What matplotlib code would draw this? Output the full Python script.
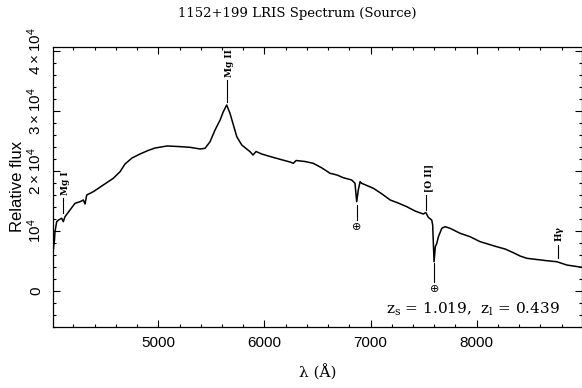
import matplotlib
matplotlib.use("Agg")
import matplotlib.pyplot as plt
from matplotlib.ticker import MultipleLocator, FixedLocator, FixedFormatter
import numpy as np

# spectrum, wavelength in Angstrom and relative flux
wave = [4010, 4021, 4026, 4042, 4059, 4089, 4104, 4120, 4167, 4215,
        4262, 4293, 4309, 4325, 4387, 4481, 4575, 4639, 4686, 4752,
        4827, 4903, 4969, 5082, 5186, 5298, 5393, 5440, 5487, 5534,
        5582, 5612, 5644, 5675, 5707, 5739, 5786, 5864, 5892, 5921,
        5974, 6052, 6147, 6241, 6272, 6298, 6383, 6460, 6542, 6618,
        6684, 6743, 6822, 6853, 6869, 6884, 6901, 6916, 7026, 7108,
        7185, 7259, 7341, 7419, 7497, 7520, 7544, 7576, 7585, 7598,
        7610, 7624, 7639, 7671, 7702, 7749, 7843, 7937, 8032, 8189,
        8267, 8346, 8409, 8472, 8660, 8755, 8849, 8990]
flux = [6780, 8450, 9830, 11500, 11780, 12070, 11500, 12330, 13450, 14570,
        14830, 15120, 14450, 15950, 16500, 17620, 18730, 19830, 21120, 22120,
        22780, 23370, 23780, 24120, 24030, 23900, 23620, 23730, 24830, 26780,
        28450, 29830, 30950, 29570, 27620, 25670, 24280, 23170, 22620, 23200,
        22780, 22370, 21900, 21450, 21230, 21700, 21530, 21230, 20450, 19570,
        19280, 18830, 18450, 17900, 14830, 16780, 18170, 17900, 17070, 16120,
        15120, 14620, 14000, 13280, 12780, 13030, 12230, 11780, 10950, 4830,
        7330, 7900, 9000, 10400, 10670, 10400, 9570, 9000, 8170, 7330,
        6950, 6330, 5780, 5400, 5000, 4830, 4280, 3900]

# line identifications: name, wavelength, marker bar (low, high) in flux units
line_names = ["Mg I", "Mg II", "[O II]", "H$\\gamma$"]
line_waves = [4104, 5649, 7525, 8763]
line_lo = [12950, 31500, 13450, 5400]
line_hi = [15450, 35120, 15950, 7620]

# telluric absorption bands
tell_waves = [6870, 7600]
tell_lo = [11780, 1500]
tell_hi = [14280, 4620]

yticks = [0, 10000, 20000, 30000, 40000]
ytick_labels = ["0", "$10^4$", "$2\\times10^4$", "$3\\times10^4$", "$4\\times10^4$"]
xticks = [5000, 6000, 7000, 8000]

plt.rcParams["font.family"] = ["Liberation Sans", "DejaVu Sans"]
plt.rcParams["mathtext.default"] = "regular"

fig = plt.figure(figsize=(5.82, 3.88), dpi=100)
ax = fig.add_axes([53.3 / 582, 61.3 / 388, 529.0 / 582, 280.0 / 388])

ax.plot(wave, flux, color="black", lw=1.1)

for name, w, lo, hi in zip(line_names, line_waves, line_lo, line_hi):
    ax.plot([w, w], [lo, hi], color="black", lw=0.8)
    ax.text(w + 20, hi + 500, name, rotation=90, ha="center", va="bottom",
            fontsize=6.5, family="DejaVu Serif", fontweight="bold")

for w, lo, hi in zip(tell_waves, tell_lo, tell_hi):
    ax.plot([w, w], [lo, hi], color="black", lw=0.8)
    ax.text(w, lo - 400, "\u2295", ha="center", va="top",
            fontsize=8, family="DejaVu Sans")

ax.text(0.957, 0.048, "z$_\\mathregular{s}$ = 1.019,  z$_\\mathregular{l}$ = 0.439",
        transform=ax.transAxes, ha="right", va="baseline",
        fontsize=11, family="DejaVu Serif")

ax.set_xlim(4010, 8995)
ax.set_ylim(-6000, 40667)

ax.xaxis.set_major_locator(FixedLocator(xticks))
ax.xaxis.set_minor_locator(MultipleLocator(200))
ax.yaxis.set_major_locator(FixedLocator(yticks))
ax.yaxis.set_major_formatter(FixedFormatter(ytick_labels))
ax.yaxis.set_minor_locator(MultipleLocator(2000))

ax.tick_params(which="both", direction="in", top=True, right=True, width=0.8)
ax.tick_params(which="major", length=5, labelsize=11, pad=7)
ax.tick_params(which="minor", length=2.5)
for lab in ax.get_yticklabels():
    lab.set_rotation(90)
    lab.set_va("center")

for sp in ax.spines.values():
    sp.set_linewidth(0.9)

ax.set_xlabel("\u03bb (\u00c5)", family="DejaVu Serif", fontsize=11, labelpad=10)
ax.set_ylabel("Relative flux", fontsize=12, labelpad=0)

fig.text(297 / 582, 1 - 13 / 388, "1152+199 LRIS Spectrum (Source)",
         ha="center", va="center", fontsize=9.5, family="DejaVu Serif")

fig.savefig("out.png", dpi=100)
